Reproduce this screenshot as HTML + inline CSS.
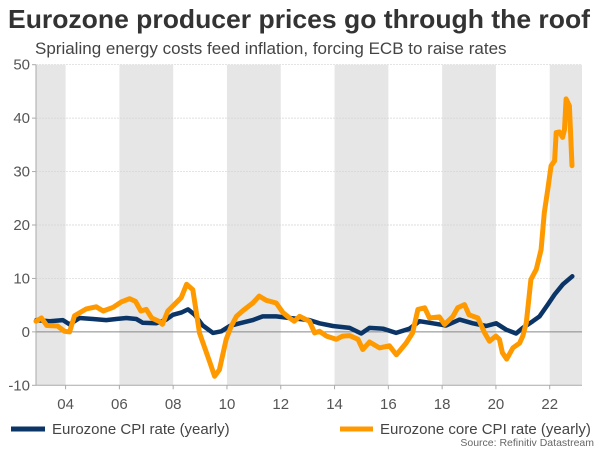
<!DOCTYPE html>
<html><head><meta charset="utf-8"><style>
body{margin:0;background:#fff;font-family:"Liberation Sans",Arial,sans-serif;}
svg{display:block}
</style></head><body>
<svg id="chart" width="600" height="450">
<text x="8" y="28" font-size="26" font-weight="bold" fill="#333" textLength="582" lengthAdjust="spacingAndGlyphs">Eurozone producer prices go through the roof</text>
<text x="35" y="54" font-size="17" fill="#444">Sprialing energy costs feed inflation, forcing ECB to raise rates</text>
<g id="bands"></g>
<g id="grid"></g>
<g id="yaxis"></g>
<g id="xaxis"></g>
<g id="series"></g>
<g>
<line x1="11" y1="429" x2="45" y2="429" stroke="#0b3566" stroke-width="5"/>
<text x="52" y="434" font-size="15" fill="#444">Eurozone CPI rate (yearly)</text>
<line x1="340" y1="429" x2="373" y2="429" stroke="#ff9900" stroke-width="5"/>
<text x="380" y="434" font-size="15" fill="#444">Eurozone core CPI rate (yearly)</text>
</g>
<text x="594" y="446" text-anchor="end" font-size="10.5" fill="#666">Source: Refinitiv Datastream</text>
</svg>
<script>
const yTicks=[-10,0,10,20,30,40,50];
const xTickYears=[2004,2006,2008,2010,2012,2014,2016,2018,2020,2022];
const xTickLabels=["04","06","08","10","12","14","16","18","20","22"];
const bandStarts=[2002.9,2006,2010,2014,2018,2022];
const bandEnds=[2004,2008,2012,2016,2020,2023.2];
const cpiDates=[2002.91,2003.41,2003.9,2004.15,2004.52,2005.02,2005.51,2005.88,2006.26,2006.63,2006.87,2007.37,2007.74,2007.99,2008.3,2008.55,2008.8,2009.1,2009.48,2009.79,2010.1,2010.47,2010.96,2011.33,2011.83,2012.33,2012.7,2013.07,2013.44,2013.94,2014.56,2014.99,2015.3,2015.8,2016.29,2016.79,2017.16,2017.65,2018.15,2018.65,2019.14,2019.64,2020.01,2020.38,2020.75,2021.0,2021.37,2021.62,2021.93,2022.18,2022.49,2022.84];
const cpiValues=[2.2,2.0,2.2,1.4,2.6,2.4,2.2,2.4,2.6,2.4,1.7,1.6,2.3,3.2,3.6,4.2,3.2,1.2,-0.2,0.1,1.1,1.6,2.2,2.9,2.9,2.6,2.4,2.2,1.6,1.1,0.75,-0.3,0.75,0.6,-0.2,0.6,2.0,1.6,1.2,2.3,1.6,1.1,1.6,0.4,-0.3,0.75,2.0,2.9,5.1,7.0,8.9,10.4];
const ppiDates=[2002.9,2003.1,2003.3,2003.7,2003.96,2004.15,2004.33,2004.77,2005.14,2005.4,2005.77,2006.07,2006.38,2006.6,2006.8,2007.0,2007.2,2007.5,2007.6,2007.8,2008.0,2008.3,2008.5,2008.73,2008.98,2009.35,2009.54,2009.72,2009.97,2010.16,2010.35,2010.6,2010.96,2011.2,2011.46,2011.83,2012.08,2012.33,2012.5,2012.7,2013.07,2013.26,2013.44,2013.7,2014.06,2014.3,2014.56,2014.87,2015.05,2015.3,2015.67,2016.04,2016.3,2016.66,2016.9,2017.1,2017.35,2017.53,2017.9,2018.09,2018.4,2018.58,2018.83,2019.0,2019.33,2019.58,2019.76,2020.0,2020.13,2020.24,2020.4,2020.63,2020.88,2021.0,2021.13,2021.3,2021.5,2021.68,2021.8,2021.93,2022.05,2022.18,2022.24,2022.36,2022.48,2022.55,2022.61,2022.73,2022.83];
const ppiValues=[2.0,2.6,1.2,1.1,0.1,0,3,4.3,4.7,3.9,4.6,5.6,6.2,5.7,3.9,4.2,2.6,1.9,1.4,3.9,4.9,6.4,8.9,7.9,-0.2,-5.5,-8.3,-7.1,-1.4,1.1,2.9,4.0,5.4,6.7,5.9,5.4,3.6,2.6,2.0,2.9,2.0,-0.2,0.1,-0.8,-1.4,-0.8,-0.7,-1.4,-3.3,-1.9,-3.0,-2.6,-4.3,-2.1,-0.2,4.2,4.5,2.6,2.8,1.4,2.9,4.5,5.1,3.2,2.6,-0.2,-1.75,-0.8,-1.4,-3.9,-5.1,-3.0,-2.1,-0.8,1.7,9.8,11.7,15.4,22.3,26.7,31.1,32.0,37.3,37.4,36.4,37.9,43.6,42.3,31.1];

const L=36,R=582,T=64.7,B=385.3,X0=2002.9,X1=2023.2,Y0=-10,Y1=50;
const xs=v=>L+(v-X0)/(X1-X0)*(R-L);
const ys=v=>B-(v-Y0)/(Y1-Y0)*(B-T);
const NS="http://www.w3.org/2000/svg";
function mk(tag,parent,attrs){const e=document.createElementNS(NS,tag);for(const k in attrs)e.setAttribute(k,attrs[k]);document.getElementById(parent).appendChild(e);return e;}
bandStarts.forEach((s,i)=>{
  const r=mk('rect','bands',{x:xs(s),y:T,width:xs(bandEnds[i])-xs(s),height:B-T,fill:'#e6e6e6'});
  
  
});
yTicks.forEach(t=>{
  if(t!==0&&t!==-10){const g=mk('line','grid',{x1:L,x2:R,y1:ys(t),y2:ys(t),stroke:'#d4d4d4','stroke-width':0.7,'stroke-dasharray':'2,1'});
  
  }
  const tk=mk('line','yaxis',{x1:L-4,x2:L,y1:ys(t),y2:ys(t),stroke:'#aaa'});
  
  
  const tx=mk('text','yaxis',{x:L-6,y:ys(t)+5,'text-anchor':'end','font-size':15,fill:'#555'});
  tx.textContent=t;
  
  
});
const ax=mk('line','yaxis',{x1:L,x2:L,y1:T,y2:B,stroke:'#aaa'});


const zl=mk('line','grid',{x1:L,x2:R,y1:ys(0),y2:ys(0),stroke:'#888','stroke-width':1});


const bx=mk('line','xaxis',{x1:L,x2:R,y1:B,y2:B,stroke:'#aaa'});


xTickYears.forEach((y,i)=>{
  const tk=mk('line','xaxis',{x1:xs(y),x2:xs(y),y1:B,y2:B+4,stroke:'#aaa'});
  
  
  const tx=mk('text','xaxis',{x:xs(y),y:409,'text-anchor':'middle','font-size':15,fill:'#555'});
  tx.textContent=xTickLabels[i];
  
  
});
function line(d,v,color,w,name){
  const p=d.map((x,i)=>(i?'L':'M')+xs(x).toFixed(1)+','+ys(v[i]).toFixed(1)).join('');
  const e=mk('path','series',{d:p,fill:'none',stroke:color,'stroke-width':w,'stroke-linejoin':'round','stroke-linecap':'round'});
  
  
}
line(cpiDates,cpiValues,'#0b3566',4.5,'cpi-line');
line(ppiDates,ppiValues,'#ff9900',5,'core-cpi-line');
</script>
</body></html>
